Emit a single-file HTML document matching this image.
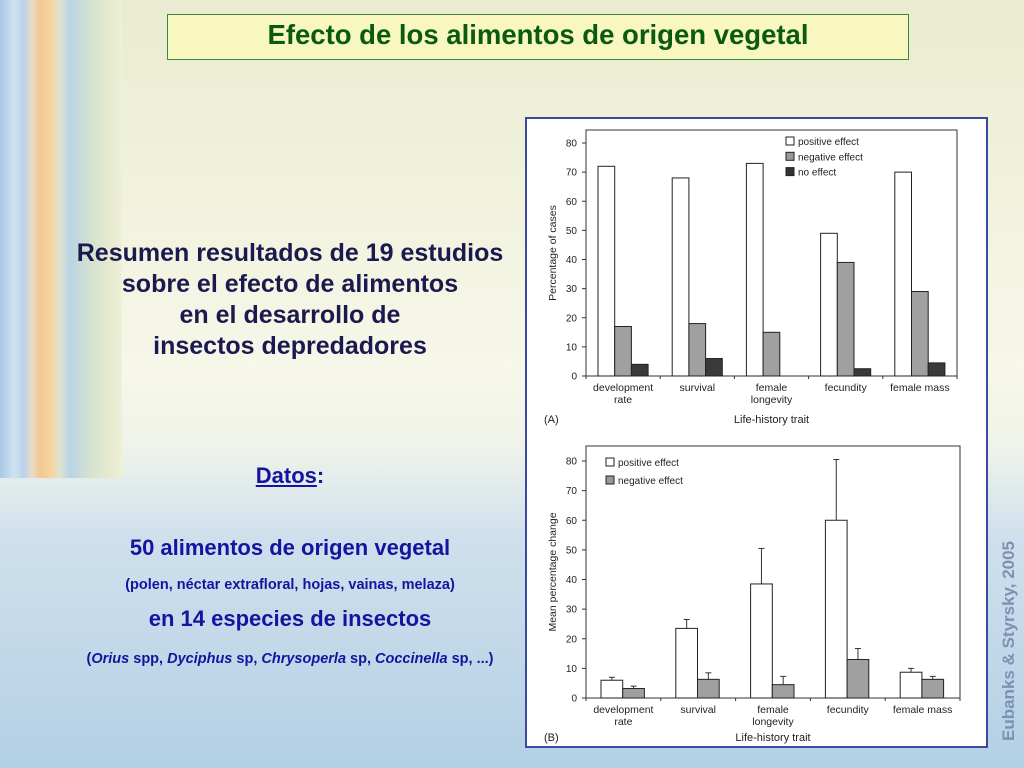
<!DOCTYPE html>
<html><head><meta charset="utf-8"><style>
body{margin:0;width:1024px;height:768px;overflow:hidden;font-family:"Liberation Sans",sans-serif;}
#slide{position:relative;width:1024px;height:768px;background:linear-gradient(180deg,#e9ecd0 0%,#f1f2dc 25%,#f7f7ea 48%,#f0f3ea 58%,#cfe0ec 70%,#b3d0e5 100%);}
.stripes{position:absolute;left:0;top:0;width:122px;height:478px;background:linear-gradient(90deg,#a9c8e6 0px,#d0e2f0 14px,#b8d2ea 24px,#e8dcc8 32px,#f2c890 40px,#f5d6a0 52px,#dde4d0 60px,#b9d3e4 70px,#d4e2d0 90px,#e6ead0 110px,#eef0d8 122px);}
.t{position:absolute;text-align:center;font-weight:bold;}
</style></head><body>
<div id="slide">
<div class="stripes"></div>
<div style="position:absolute;left:167px;top:14px;width:740px;height:44px;background:#f8f7c0;border:1px solid #3a8a3a;"></div>
<div class="t" style="left:167px;top:19px;width:742px;font-size:27.5px;color:#0b5a12;">Efecto de los alimentos de origen vegetal</div>
<div class="t" style="left:40px;top:238px;width:500px;font-size:25px;line-height:31px;color:#1a1a50;">Resumen resultados de 19 estudios<br>sobre el efecto de alimentos<br>en el desarrollo de<br>insectos depredadores</div>
<div class="t" style="left:190px;top:463px;width:200px;font-size:22px;color:#1414a0;"><u>Datos</u>:</div>
<div class="t" style="left:40px;top:535px;width:500px;font-size:22px;color:#1414a0;">50 alimentos de origen vegetal</div>
<div class="t" style="left:40px;top:577px;width:500px;font-size:14.5px;color:#1414a0;">(polen, néctar extrafloral, hojas, vainas, melaza)</div>
<div class="t" style="left:40px;top:606px;width:500px;font-size:22px;color:#1414a0;">en 14 especies de insectos</div>
<div class="t" style="left:20px;top:651px;width:540px;font-size:14.5px;color:#1414a0;">(<i>Orius</i> spp, <i>Dyciphus</i> sp, <i>Chrysoperla</i> sp, <i>Coccinella</i> sp, ...)</div>
<div style="position:absolute;left:999px;top:741px;transform:rotate(-90deg);transform-origin:0 0;white-space:nowrap;font-size:17px;font-weight:bold;color:#8090b4;">Eubanks &amp; Styrsky, 2005</div>
<svg id="panel" style="position:absolute;left:0;top:0" width="1024" height="768" font-family="Liberation Sans, sans-serif"></svg>
</div>
<script>
const categories=["development|rate","survival","female|longevity","fecundity","female mass"];
const aPositive=[72,68,73,49,70];
const aNegative=[17,18,15,39,29];
const aNoEffect=[4,6,0,2.5,4.5];
const aTicks=[0,10,20,30,40,50,60,70,80];
const bPositive=[6,23.5,38.5,60,8.7];
const bPositiveErr=[7,26.5,50.5,80.5,10];
const bNegative=[3.2,6.3,4.5,13,6.3];
const bNegativeErr=[4,8.5,7.3,16.7,7.3];
const bTicks=[0,10,20,30,40,50,60,70,80];
const NS="http://www.w3.org/2000/svg";
const svg=document.getElementById('panel');
function mk(tag,attrs,parent){const e=document.createElementNS(NS,tag);for(const k in attrs)e.setAttribute(k,attrs[k]);(parent||svg).appendChild(e);return e;}
function txt(x,y,s,size,anchor,parent){const e=mk('text',{x:x,y:y,'font-size':size,'text-anchor':anchor||'middle',fill:'#222'},parent);e.textContent=s;return e;}
const bg=mk('rect',{x:526,y:118,width:461,height:629,fill:'#fff',stroke:'#3a4aa0','stroke-width':2});


function chart(o){
  const g=mk('g',{});
  
  
  const y=v=>o.y0-(v/80)*(o.y0-o.y80);
  const gw=(o.x1-o.x0)/categories.length;
  mk('rect',{x:o.x0,y:o.top,width:o.x1-o.x0,height:o.y0-o.top,fill:'none',stroke:'#333','stroke-width':1},g);
  o.ticks.forEach(t=>{mk('line',{x1:o.x0-4,x2:o.x0,y1:y(t),y2:y(t),stroke:'#333'},g);
    const l=txt(o.x0-9,y(t)+3.5,String(t),10,'end',g);
    
    });
  for(let i=0;i<=categories.length;i++)mk('line',{x1:o.x0+i*gw,x2:o.x0+i*gw,y1:o.y0,y2:o.y0+3,stroke:'#333'},g);
  categories.forEach((c,i)=>{const parts=c.split('|');parts.forEach((p,j)=>{
    const l=txt(o.x0+(i+0.5)*gw,o.y0+15+j*12,p,10.5,'middle',g);
    
    });});
  o.series.forEach((s,si)=>{s.vals.forEach((v,i)=>{
    const x=o.x0+i*gw+o.off+si*o.bw;
    if(s.err){const e=mk('line',{x1:x+o.bw/2,x2:x+o.bw/2,y1:y(v),y2:y(s.err[i]),stroke:'#333'},g);
      
      
      mk('line',{x1:x+o.bw/2-3,x2:x+o.bw/2+3,y1:y(s.err[i]),y2:y(s.err[i]),stroke:'#333'},g);}
    if(v>0){const r=mk('rect',{x:x,y:y(v),width:o.bw,height:o.y0-y(v),fill:s.fill,stroke:'#222','stroke-width':1},g);
      
      }
  });});
  o.legend.forEach((L,i)=>{mk('rect',{x:o.lx,y:o.ly+i*o.lg-7,width:8,height:8,fill:L[1],stroke:'#222'},g);
    const l=txt(o.lx+12,o.ly+i*o.lg+1,L[0],10,'start',g);
    
    });
  const yt=txt(0,0,o.ytitle,10.5,'middle',g);
  yt.setAttribute('transform','translate('+o.ytx+','+((o.top+o.y0)/2)+') rotate(-90)');
  
  
  const xt=txt((o.x0+o.x1)/2,o.xty,'Life-history trait',11,'middle',g);
  
  
  const pl=txt(544,o.xty,o.label,11,'start',g);
  
  
}
chart({name:'chart-a',x0:586,x1:957,top:130,y0:376,y80:143,off:12,bw:16.7,ticks:aTicks,ytitle:'Percentage of cases',ytx:556,xty:423,label:'(A)',
  lx:786,ly:144,lg:15.3,legend:[['positive effect','#fff'],['negative effect','#999'],['no effect','#333']],
  series:[{key:'positive',vals:aPositive,fill:'#fff'},{key:'negative',vals:aNegative,fill:'#a0a0a0'},{key:'none',vals:aNoEffect,fill:'#3a3a3a'}]});
chart({name:'chart-b',x0:586,x1:960,top:446,y0:698,y80:461,off:15,bw:21.7,ticks:bTicks,ytitle:'Mean percentage change',ytx:556,xty:741,label:'(B)',
  lx:606,ly:465,lg:18,legend:[['positive effect','#fff'],['negative effect','#999']],
  series:[{key:'positive',vals:bPositive,err:bPositiveErr,fill:'#fff'},{key:'negative',vals:bNegative,err:bNegativeErr,fill:'#a0a0a0'}]});
</script>
</body></html>
